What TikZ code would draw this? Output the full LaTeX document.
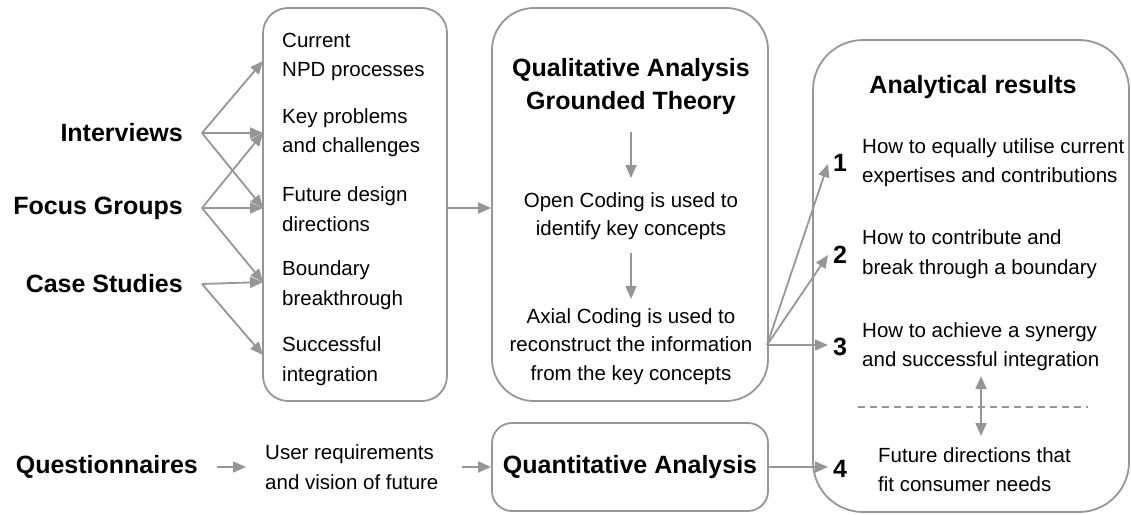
\documentclass[tikz,border=0pt]{standalone}
\usepackage{fontspec}
\setmainfont{Liberation Sans}
\usetikzlibrary{arrows.meta}
\definecolor{lc}{RGB}{150,150,150}
\begin{document}
\begin{tikzpicture}[x=1pt,y=-1pt,
  box/.style={draw=lc, line width=1.8pt, rounded corners=#1, inner sep=0pt},
  box/.default=25pt,
  arr/.style={draw=lc, line width=1.8pt, -{Triangle[length=13pt,width=11pt]}},
  darr/.style={draw=lc, line width=1.8pt, {Triangle[length=13pt,width=11pt]}-{Triangle[length=13pt,width=11pt]}},
  body/.style={font=\fontsize{20.5}{29.5}\selectfont, inner sep=0pt, align=left},
  bodyc/.style={font=\fontsize{20.5}{28.5}\selectfont, inner sep=0pt, align=center},
  head/.style={font=\fontsize{25}{33}\selectfont\bfseries, inner sep=0pt, align=center},
  num/.style={font=\fontsize{25}{30}\selectfont\bfseries, inner sep=0pt}
]
\useasboundingbox (0,0) rectangle (1131,514);

% boxes
\node[box=25pt, minimum width=184pt, minimum height=393pt] (items) at (355,204.5) {};
\node[box=42pt, minimum width=276pt, minimum height=393pt] (qual) at (630,204.5) {};
\node[box=50pt, minimum width=316pt, minimum height=472pt] (res) at (971,276) {};
\node[box=20pt, minimum width=276pt, minimum height=88pt] (quant) at (630,467) {};

% left sources
\node[head, anchor=east] (int) at (183,133) {Interviews};
\node[head, anchor=east] (foc) at (183,208) {Focus Groups};
\node[head, anchor=east] (cas) at (183,284) {Case Studies};
\node[head, anchor=east] (que) at (198,467) {Questionnaires};

% items
\node[body, anchor=west] (i1) at (282,57) {Current\\NPD processes};
\node[body, anchor=west] (i2) at (282,132.5) {Key problems\\and challenges};
\node[body, anchor=west] (i3) at (282,209) {Future design\\directions};
\node[body, anchor=west] (i4) at (282,285) {Boundary\\breakthrough};
\node[body, anchor=west] (i5) at (282,361) {Successful\\integration};

% fan points
\coordinate (s1) at (202,133);
\coordinate (s2) at (202,208);
\coordinate (s3) at (202,284);
\coordinate (t1) at (263,61);
\coordinate (t2) at (263,133);
\coordinate (t3) at (263,208);
\coordinate (t4) at (263,282);
\coordinate (t5) at (263,355);
\draw[arr] (s1) -- (t1);
\draw[arr] (s1) -- (t2);
\draw[arr] (s1) -- (t3);
\draw[arr] (s2) -- (t2);
\draw[arr] (s2) -- (t3);
\draw[arr] (s2) -- (t4);
\draw[arr] (s3) -- (t4);
\draw[arr] (s3) -- (t5);

% items -> qualitative
\draw[arr] (items.east |- 0,208) -- (qual.west |- 0,208);

% qualitative contents
\node[head] (qt) at (631,86.5) {Qualitative Analysis\\Grounded Theory};
\node[bodyc] (open) at (631,216) {Open Coding is used to\\identify key concepts};
\node[bodyc] (axial) at (631,346.5) {Axial Coding is used to\\reconstruct the information\\from the key concepts};
\coordinate (a1s) at (631,132);
\coordinate (a1e) at (631,178);
\coordinate (a2s) at (631,253);
\coordinate (a2e) at (631,299);
\draw[arr] (a1s) -- (a1e);
\draw[arr] (a2s) -- (a2e);

% results
\node[head] (rt) at (973,87) {Analytical results};
\node[num] (n1) at (840,163) {1};
\node[num] (n2) at (840,255) {2};
\node[num] (n3) at (840,347) {3};
\node[num] (n4) at (840,469) {4};
\node[body, anchor=west] (r1) at (862,162.5) {How to equally utilise current\\expertises and contributions};
\node[body, anchor=west] (r2) at (862,254) {How to contribute and\\break through a boundary};
\node[body, anchor=west] (r3) at (862,346.5) {How to achieve a synergy\\and successful integration};
\node[body, anchor=west] (r4) at (878,469.5) {Future directions that\\fit consumer needs};

\coordinate (fr) at (767,345);
\coordinate (e1) at (828,164);
\coordinate (e2) at (828,255);
\coordinate (e3) at (828,345);
\draw[arr] (fr) -- (e1);
\draw[arr] (fr) -- (e2);
\draw[arr] (fr) -- (e3);

\coordinate (dl) at (858,407);
\coordinate (dr) at (1088,407);
\draw[lc, line width=1.5pt, dash pattern=on 7pt off 5pt] (dl) -- (dr);
\coordinate (du) at (981,376);
\coordinate (dd) at (981,436);
\draw[darr] (du) -- (dd);

% bottom row
\node[body, anchor=west] (ureq) at (265,467) {User requirements\\and vision of future};
\node[head] (qn) at (quant) {Quantitative Analysis};
\coordinate (q1) at (217,467);
\coordinate (q1e) at (246,467);
\coordinate (q2) at (462,467);
\coordinate (e4) at (828,467);
\draw[arr] (q1) -- (q1e);
\draw[arr] (q2) -- (quant.west);
\draw[arr] (quant.east) -- (e4);
\end{tikzpicture}
\end{document}
